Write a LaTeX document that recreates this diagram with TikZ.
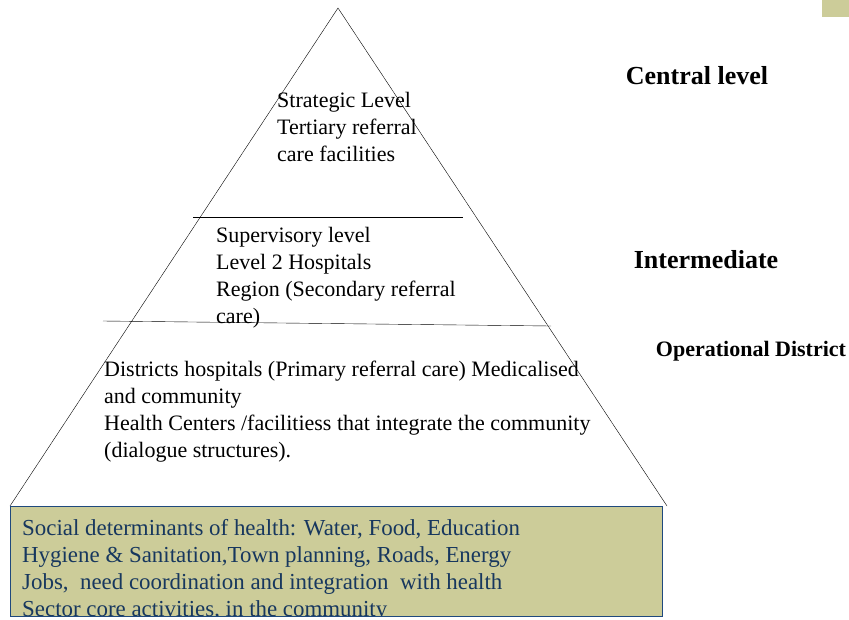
\documentclass[tikz,border=0pt]{standalone}
\usepackage{fontspec}
\setmainfont{Liberation Serif}
\usepackage{xcolor}
\usepackage{tikz}
\usetikzlibrary{calc}

\definecolor{boxolive}{RGB}{204,204,153}
\definecolor{boxblue}{RGB}{23,55,94}
\definecolor{boxedge}{RGB}{31,73,125}

\begin{document}
\begin{tikzpicture}[x=1pt,y=-1pt,
    leveltext/.style={anchor=north west,inner sep=0pt,align=left,
        font=\fontsize{22}{27}\selectfont},
    sidelabel/.style={inner sep=0pt,font=\bfseries\fontsize{26}{30}\selectfont}]
\useasboundingbox (0,0) rectangle (849,619);

% Small tab top right
\fill[boxolive] (822,0) rectangle (849,17);

% Pyramid outline
\coordinate (apex) at (338,8);
\coordinate (baseL) at (10,506);
\coordinate (baseR) at (667,506);
\draw[thin] (baseL) -- (apex) -- (baseR);

% Level dividers
\coordinate (divAL) at (193,217);
\coordinate (divAR) at (463,217);
\coordinate (divBL) at (103,321);
\coordinate (divBR) at (551,326);
\draw[semithick] (divAL) -- (divAR);
\draw[thin] (divBL) -- (divBR);

% Text inside the pyramid
\node[leveltext] (strategic) at (277,92) {Strategic Level\\Tertiary referral\\care facilities};
\node[leveltext] (supervisory) at (216,227) {Supervisory level\\Level 2 Hospitals\\Region (Secondary referral\\care)};
\node[leveltext] (districts) at (104,361) {Districts hospitals (Primary referral care) Medicalised\\and community\\Health Centers /facilitiess that integrate the community\\(dialogue structures).};

% Social determinants box
\fill[boxolive] (10,506) rectangle (662,616);
\begin{scope}
\clip (10,506) rectangle (662,616);
\node[leveltext,text=boxblue,font=\fontsize{22.9}{27}\selectfont] (social) at (22,519)
  {Social determinants of health: Water, Food, Education\\Hygiene \& Sanitation,Town planning, Roads, Energy\\Jobs,\ \ need coordination and integration\ \ with health\\Sector core activities, in the community};
\end{scope}
\draw[boxedge,semithick] (10,506) rectangle (662,616);

% Level names on the right
\node[sidelabel] (central) at (697,76) {Central level};
\node[sidelabel] (intermediate) at (706,260) {Intermediate};
\node[sidelabel,font=\bfseries\fontsize{22}{26}\selectfont] (operational) at (751,351) {Operational District};
\end{tikzpicture}
\end{document}
